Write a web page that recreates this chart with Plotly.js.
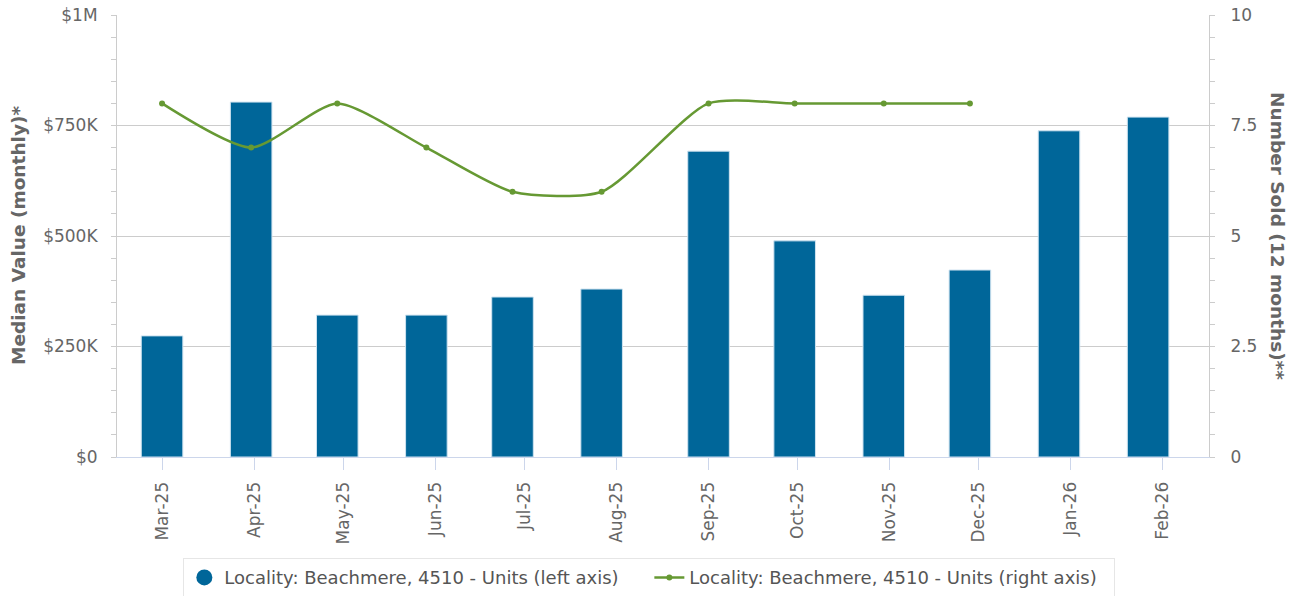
<!DOCTYPE html>
<html>
<head>
<meta charset="utf-8">
<script src="https://cdn.plot.ly/plotly-3.0.1.min.js"></script>
<style>
html,body{margin:0;padding:0;background:#fff;}
#chart{width:1301px;height:596px;}
</style>
</head>
<body>
<div id="chart"></div>
<script>
// Data
var periodDates = ['2025-03-01','2025-03-31','2025-04-29','2025-05-29','2025-06-27','2025-07-27',
                   '2025-09-01','2025-09-30','2025-10-30','2025-11-28','2025-12-28','2026-01-27'];
var medianValue = [274000, 803000, 321000, 321000, 362000, 380000, 692000, 489000, 366000, 423000, 738000, 769000];
var lineDates = periodDates.slice(0, 10);
var numberSold = [8, 7, 8, 7, 6, 6, 8, 8, 8, 8];
var leftTickVals = [0, 250000, 500000, 750000, 1000000];
var leftTickText = ['$0', '$250K', '$500K', '$750K', '$1M'];
var rightTickVals = [0, 2.5, 5, 7.5, 10];
var rightTickText = ['0', '2.5', '5', '7.5', '10'];
var barName = 'Locality: Beachmere, 4510 - Units (left axis)';
var lineName = 'Locality: Beachmere, 4510 - Units (right axis)';

var DAY = 86400000;
var FONT = 'DejaVu Sans, sans-serif';
var BLUE = '#006699';
var GREEN = '#669933';

var traces = [
  {
    type: 'bar', x: periodDates, y: medianValue, yaxis: 'y',
    width: 14 * DAY,
    marker: {color: BLUE, line: {color: '#cfe3f0', width: 1}},
    showlegend: false, hoverinfo: 'x+y'
  },
  {
    type: 'scatter', mode: 'markers', x: [null], y: [null], name: barName,
    marker: {color: BLUE, size: 18, symbol: 'circle'}, showlegend: true
  },
  {
    type: 'scatter', mode: 'lines+markers', x: lineDates, y: numberSold, yaxis: 'y2',
    name: lineName,
    line: {color: GREEN, width: 2.5, shape: 'spline', smoothing: 0.65},
    marker: {color: GREEN, size: 6}
  }
];

var layout = {
  width: 1301, height: 596,
  margin: {l: 117, r: 92, t: 15, b: 139, autoexpand: false},
  paper_bgcolor: '#ffffff', plot_bgcolor: '#ffffff',
  font: {family: FONT, size: 17, color: '#666666'},
  showlegend: true,
  legend: {
    orientation: 'h', x: 0.4875, xanchor: 'center', y: -0.229, yanchor: 'top',
    bordercolor: '#e6e6e6', borderwidth: 1, bgcolor: '#ffffff',
    font: {family: FONT, size: 18, color: '#555555'},
    traceorder: 'normal', itemsizing: 'trace', itemwidth: 30,
    entrywidth: 420, entrywidthmode: 'pixels'
  },
  xaxis: {
    type: 'date',
    range: ['2025-02-13 20:00', '2026-02-16 12:00'],
    tickmode: 'linear', tick0: '2025-03-01', dtick: 'M1',
    tickformat: '%b-%y', tickangle: -90,
    ticks: 'outside', ticklen: 12, tickcolor: '#ccd6eb', tickwidth: 1,
    ticklabelstandoff: 5,
    showgrid: false, showline: true, linecolor: '#ccd6eb', linewidth: 1,
    tickfont: {family: FONT, size: 17, color: '#666666'},
    zeroline: false, fixedrange: true
  },
  yaxis: {
    range: [0, 1000000],
    tickvals: leftTickVals, ticktext: leftTickText,
    ticks: 'outside', ticklen: 5, tickcolor: '#cccccc',
    ticklabelstandoff: 10,
    showgrid: true, gridcolor: '#cccccc', gridwidth: 1,
    showline: true, linecolor: '#cccccc', linewidth: 1,
    zeroline: false,
    minor: {dtick: 50000, ticks: 'outside', ticklen: 5, tickcolor: '#cccccc', showgrid: false},
    tickfont: {family: FONT, size: 17, color: '#666666'},
    fixedrange: true
  },
  yaxis2: {
    range: [0, 10], overlaying: 'y', side: 'right',
    tickvals: rightTickVals, ticktext: rightTickText,
    ticks: 'outside', ticklen: 5, tickcolor: '#cccccc',
    ticklabelstandoff: 12,
    showgrid: false, showline: true, linecolor: '#cccccc', linewidth: 1,
    zeroline: false,
    minor: {dtick: 0.5, ticks: 'outside', ticklen: 5, tickcolor: '#cccccc', showgrid: false},
    tickfont: {family: FONT, size: 17, color: '#666666'},
    fixedrange: true
  },
  annotations: [
    {
      text: '<b>Median Value (monthly)*</b>', xref: 'paper', yref: 'paper',
      x: 0, xshift: -99, y: 0.5, xanchor: 'center', yanchor: 'middle',
      textangle: -90, showarrow: false,
      font: {family: FONT, size: 18.5, color: '#666666'}
    },
    {
      text: '<b>Number Sold (12 months)**</b>', xref: 'paper', yref: 'paper',
      x: 1, xshift: 69, y: 0.5, xanchor: 'center', yanchor: 'middle',
      textangle: 90, showarrow: false,
      font: {family: FONT, size: 18.5, color: '#666666'}
    }
  ]
};

Plotly.newPlot('chart', traces, layout, {displayModeBar: false, staticPlot: true});
</script>
</body>
</html>
